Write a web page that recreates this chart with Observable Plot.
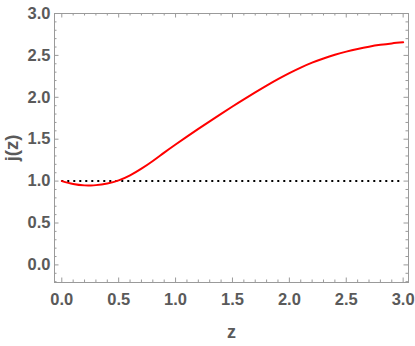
<!DOCTYPE html>
<html>
<head>
<meta charset="utf-8">
<script src="https://cdn.jsdelivr.net/npm/d3@7"></script>
<script src="https://cdn.jsdelivr.net/npm/@observablehq/plot@0.6"></script>
<style>
  html, body { margin: 0; padding: 0; background: #fff; }
  #chart { width: 415px; height: 346px; }
</style>
</head>
<body>
<div id="chart"></div>
<script>
// Data
const zValues = [0, 0.1, 0.2, 0.25, 0.3, 0.4, 0.5, 0.6, 0.7, 0.8, 0.9, 1.0, 1.1, 1.2, 1.3, 1.4, 1.5, 1.6, 1.7, 1.8, 1.9, 2.0, 2.1, 2.2, 2.3, 2.4, 2.5, 2.6, 2.7, 2.8, 2.9, 3.0];
const jValues = [1.0, 0.966, 0.949, 0.948, 0.952, 0.972, 1.008, 1.068, 1.148, 1.24, 1.34, 1.437, 1.531, 1.623, 1.713, 1.802, 1.89, 1.975, 2.058, 2.139, 2.216, 2.288, 2.354, 2.413, 2.463, 2.507, 2.545, 2.577, 2.604, 2.626, 2.643, 2.656];
const refLevel = [1.0];
const xMajorTicks = [0, 0.5, 1.0, 1.5, 2.0, 2.5, 3.0];
const yMajorTicks = [0, 0.5, 1.0, 1.5, 2.0, 2.5, 3.0];
const xMinorTicks = [0.1,0.2,0.3,0.4,0.6,0.7,0.8,0.9,1.1,1.2,1.3,1.4,1.6,1.7,1.8,1.9,2.1,2.2,2.3,2.4,2.6,2.7,2.8,2.9];
const yMinorTicks = [-0.2,-0.1,0.1,0.2,0.3,0.4,0.6,0.7,0.8,0.9,1.1,1.2,1.3,1.4,1.6,1.7,1.8,1.9,2.1,2.2,2.3,2.4,2.6,2.7,2.8,2.9];
const xLabel = "z";
const yLabel = "j(z)";

const curve = zValues.map((z, i) => ({z, j: jValues[i]}));

const xDomain = [-0.064, 3.047];
const yDomain = [-0.21, 3.0];
const frameColor = "#9a9a9a";
const labelColor = "#5a5a5a";
const fontFam = "'Liberation Sans', Arial, sans-serif";

// inward ticks drawn as zero-length rules extended by negative insets
function ticksBottomTop(values, len) {
  return [
    Plot.ruleX(values, {x: d => d, y1: yDomain[0], y2: yDomain[0], insetTop: -len, stroke: frameColor}),
    Plot.ruleX(values, {x: d => d, y1: yDomain[1], y2: yDomain[1], insetBottom: -len, stroke: frameColor})
  ];
}
function ticksLeftRight(values, len) {
  return [
    Plot.ruleY(values, {y: d => d, x1: xDomain[0], x2: xDomain[0], insetRight: -len, stroke: frameColor}),
    Plot.ruleY(values, {y: d => d, x1: xDomain[1], x2: xDomain[1], insetLeft: -len, stroke: frameColor})
  ];
}

const chart = Plot.plot({
  width: 415,
  height: 346,
  marginLeft: 54,
  marginRight: 7,
  marginTop: 13,
  marginBottom: 64,
  style: {fontFamily: fontFam, background: "#fff", overflow: "visible"},
  x: {domain: xDomain, axis: null},
  y: {domain: yDomain, axis: null},
  marks: [
    Plot.frame({stroke: frameColor, strokeWidth: 1}),
    ...ticksBottomTop(xMajorTicks, 4.5),
    ...ticksBottomTop(xMinorTicks, 2.5),
    ...ticksLeftRight(yMajorTicks, 4.5),
    ...ticksLeftRight(yMinorTicks, 2.5),
    // tick labels
    Plot.axisX({anchor: "bottom", ticks: xMajorTicks, tickSize: 0, tickPadding: 11, tickFormat: d3.format(".1f"), label: null,
      fill: labelColor, fontSize: 16.5, fontWeight: "bold"}),
    Plot.axisY({anchor: "left", ticks: yMajorTicks, tickSize: 0, tickPadding: 4, tickFormat: d3.format(".1f"), label: null,
      fill: labelColor, fontSize: 16.5, fontWeight: "bold"}),
    // axis labels
    Plot.text([xLabel], {frameAnchor: "bottom", lineAnchor: "middle", textAnchor: "middle", dy: 50, text: d => d, fill: labelColor, fontSize: 18, fontWeight: "bold"}),
    Plot.text([yLabel], {frameAnchor: "left", lineAnchor: "middle", textAnchor: "middle", dx: -42, rotate: -90, text: d => d, fill: labelColor, fontSize: 18.5, fontWeight: "bold"}),
    // reference dotted line
    Plot.ruleY(refLevel, {stroke: "#000", strokeWidth: 2, strokeDasharray: "2,4", x1: 0, x2: 3.0}),
    // curve
    Plot.line(curve, {x: "z", y: "j", stroke: "#ff0000", strokeWidth: 2, curve: "natural"})
  ]
});
document.getElementById("chart").appendChild(chart);
</script>
</body>
</html>
